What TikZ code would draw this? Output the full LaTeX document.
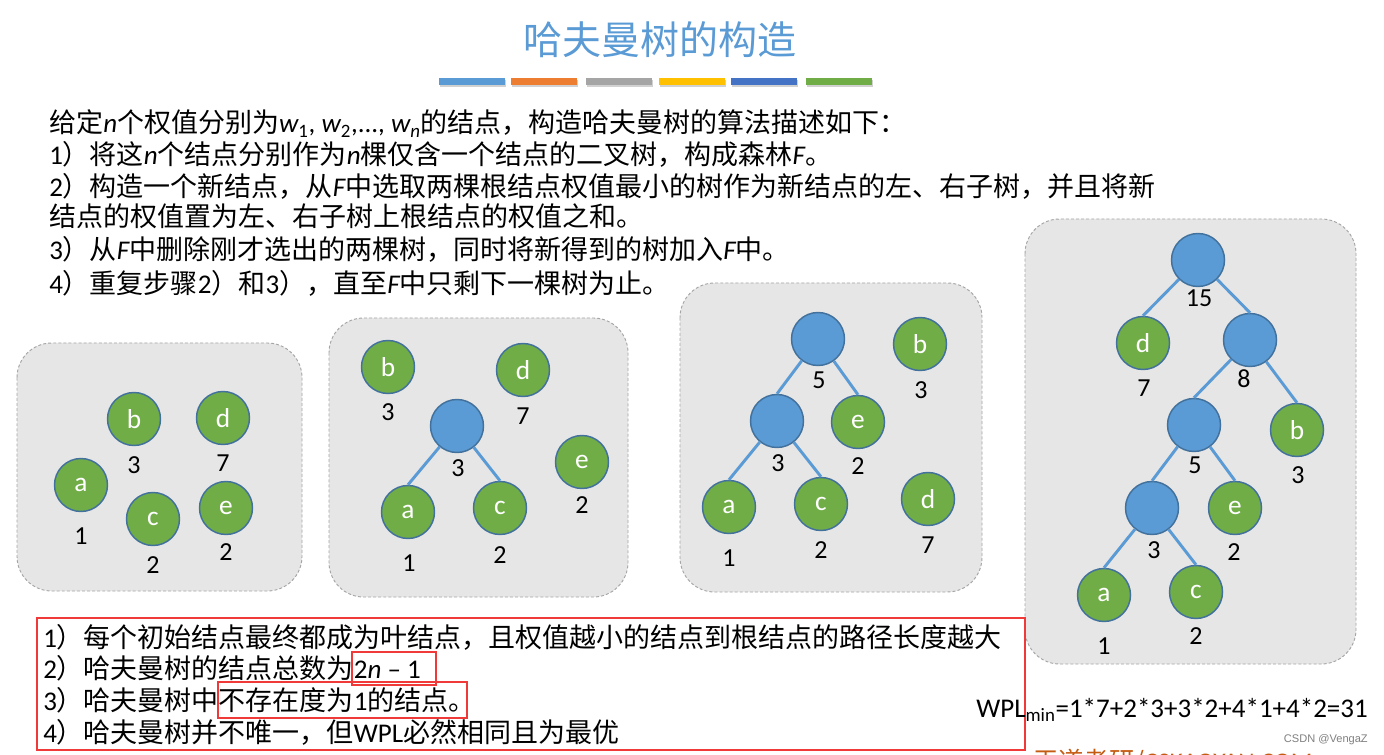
\documentclass[tikz,border=0pt]{standalone}
\usepackage{fontspec}
\setmainfont{Noto Sans CJK SC}
\newfontfamily\latf{Carlito}
\newfontfamily\wmf{Liberation Sans}
\newcommand\Lat[1]{{\latf #1}}
\newcommand\Lit[1]{{\latf\itshape #1}}
\definecolor{cblue}{RGB}{91,155,213}
\definecolor{corange}{RGB}{237,125,49}
\definecolor{cgray}{RGB}{165,165,165}
\definecolor{cyellow}{RGB}{255,192,0}
\definecolor{cdblue}{RGB}{68,114,196}
\definecolor{cgreen}{RGB}{112,173,71}
\definecolor{cring}{RGB}{65,113,156}
\definecolor{cpanel}{RGB}{231,230,230}
\definecolor{cpanedge}{RGB}{165,165,165}
\definecolor{cred}{RGB}{240,58,58}
\definecolor{cwm}{RGB}{197,90,17}
\tikzset{
  panel/.style={fill=cpanel, draw=cpanedge, line width=0.7pt, dash pattern=on 2.2pt off 1.6pt, rounded corners=26pt},
  leaf/.style={circle, minimum size=39.75pt, inner sep=0pt, fill=cgreen, draw=cring, line width=1.1pt, text=white, font=\latf\fontsize{20.5}{24}\selectfont},
  inner/.style={leaf, fill=cblue},
  wt/.style={inner sep=0pt, font=\latf\fontsize{19.5}{23}\selectfont},
  edge/.style={draw=cblue, line width=2.2pt},
  body/.style={inner sep=0pt, anchor=base west, font=\fontsize{20.25}{24}\selectfont},
  redframe/.style={draw=cred, line width=2.2pt},
}
\begin{document}
\begin{tikzpicture}[x=0.75pt, y=-0.75pt]
\useasboundingbox (0,0) rectangle (1384,755);
\clip (0,0) rectangle (1384,755);
\fill[white] (0,0) rectangle (1384,755);
% title
\node[inner sep=0pt, text=cblue, font=\fontsize{29.25}{34}\selectfont] (title) at (660,40) {哈夫曼树的构造};
% colour bars
\foreach \x/\c in {439/cblue, 511/corange, 586/cgray, 659/cyellow, 731/cdblue, 806/cgreen}{
  \fill[black, opacity=0.18] (\x+1,80) rectangle (\x+67,87);
  \fill[\c] (\x,78) rectangle (\x+66,85);
}
% description
\node[body] (l1) at (49,133) {给定\Lit{n}个权值分别为\Lit{w}\Lat{\textsubscript{1}, }\Lit{w}\Lat{\textsubscript{2},..., }\Lit{w}\Lat{\textsubscript{\itshape n}}的结点，构造哈夫曼树的算法描述如下：};
\node[body] (l2) at (49,165) {\Lat{1}）将这\Lit{n}个结点分别作为\Lit{n}棵仅含一个结点的二叉树，构成森林\Lit{F}。};
\node[body] (l3) at (49,197) {\Lat{2}）构造一个新结点，从\Lit{F}中选取两棵根结点权值最小的树作为新结点的左、右子树，并且将新};
\node[body] (l4) at (49,227) {结点的权值置为左、右子树上根结点的权值之和。};
\node[body] (l5) at (49,260) {\Lat{3}）从\Lit{F}中删除刚才选出的两棵树，同时将新得到的树加入\Lit{F}中。};
\node[body] (l6) at (49,294) {\Lat{4}）重复步骤\Lat{2}）和\Lat{3}），直至\Lit{F}中只剩下一棵树为止。};
% panels
\draw[panel] (17,343) rectangle (302,591);
\draw[panel] (329,318) rectangle (628,597);
\draw[panel] (680,283) rectangle (982,592);
\draw[panel] (1025,219) rectangle (1356,664);
% panel 1
\node[leaf] (p1a) at (81,485) {a};  \node[wt] (p1wa) at (81,536) {1};
\node[leaf] (p1b) at (134,419) {b}; \node[wt] (p1wb) at (134,465) {3};
\node[leaf] (p1d) at (223,418) {d}; \node[wt] (p1wd) at (223,463) {7};
\node[leaf] (p1c) at (153,519) {c}; \node[wt] (p1wc) at (153,565) {2};
\node[leaf] (p1e) at (226,508) {e}; \node[wt] (p1we) at (226,552) {2};
% panel 2
\node[leaf] (p2b) at (388,367) {b}; \node[wt] (p2wb) at (388,412) {3};
\node[leaf] (p2d) at (523,370) {d}; \node[wt] (p2wd) at (523,416) {7};
\node[inner] (p2n3) at (457,426) {}; \node[wt] (p2w3) at (458,468) {3};
\node[leaf] (p2e) at (582,462) {e}; \node[wt] (p2we) at (582,505) {2};
\node[leaf] (p2a) at (408,512) {a}; \node[wt] (p2wa) at (409,563) {1};
\node[leaf] (p2c) at (500,508) {c}; \node[wt] (p2wc) at (500,555) {2};
\draw[edge] (p2n3) -- (p2a.north);
\draw[edge] (p2n3) -- (p2c.north);
% panel 3
\node[inner] (p3n5) at (818,339) {}; \node[wt] (p3w5) at (819,380) {5};
\node[leaf] (p3b) at (920,344) {b}; \node[wt] (p3wb) at (921,390) {3};
\node[inner] (p3n3) at (777,421) {}; \node[wt] (p3w3) at (778,463) {3};
\node[leaf] (p3e) at (858,422) {e}; \node[wt] (p3we) at (858,466) {2};
\node[leaf] (p3a) at (729,507) {a}; \node[wt] (p3wa) at (729,558) {1};
\node[leaf] (p3c) at (821,504) {c}; \node[wt] (p3wc) at (821,550) {2};
\node[leaf] (p3d) at (928,499) {d}; \node[wt] (p3wd) at (928,545) {7};
\draw[edge] (p3n5) -- (p3n3.north);
\draw[edge] (p3n5) -- (p3e.north);
\draw[edge] (p3n3) -- (p3a.north);
\draw[edge] (p3n3) -- (p3c.north);
% panel 4
\node[inner] (p4r) at (1198,260) {}; \node[wt] (p4wr) at (1199,298) {15};
\node[leaf] (p4d) at (1143,343) {d}; \node[wt] (p4wd) at (1144,388) {7};
\node[inner] (p4n8) at (1250,340) {}; \node[wt] (p4w8) at (1244,379) {8};
\node[inner] (p4n5) at (1194,425) {}; \node[wt] (p4w5) at (1195,465) {5};
\node[leaf] (p4b) at (1297,430) {b}; \node[wt] (p4wb) at (1298,475) {3};
\node[inner] (p4n3) at (1152,508) {}; \node[wt] (p4w3) at (1154,550) {3};
\node[leaf] (p4e) at (1235,508) {e}; \node[wt] (p4we) at (1234,552) {2};
\node[leaf] (p4a) at (1104,595) {a}; \node[wt] (p4wa) at (1104,646) {1};
\node[leaf] (p4c) at (1196,592) {c}; \node[wt] (p4wc) at (1196,636) {2};
\draw[edge] (p4r) -- (p4d.north);
\draw[edge] (p4r) -- (p4n8.north);
\draw[edge] (p4n8) -- (p4n5.north);
\draw[edge] (p4n8) -- (p4b.north);
\draw[edge] (p4n5) -- (p4n3.north);
\draw[edge] (p4n5) -- (p4e.north);
\draw[edge] (p4n3) -- (p4a.north);
\draw[edge] (p4n3) -- (p4c.north);
% conclusions
\node[body] (b1) at (43,647) {\Lat{1}）每个初始结点最终都成为叶结点，且权值越小的结点到根结点的路径长度越大};
\node[body] (b2) at (43,678) {\Lat{2}）哈夫曼树的结点总数为\Lat{2}\Lit{n}\Lat{ – 1}};
\node[body] (b3) at (43,710) {\Lat{3}）哈夫曼树中不存在度为\Lat{1}的结点。};
\node[body] (b4) at (43,742) {\Lat{4}）哈夫曼树并不唯一，但\Lat{WPL}必然相同且为最优};
\draw[redframe] (37,618) rectangle (1025,750);
\draw[redframe] (352,652) rectangle (436,685);
\draw[redframe] (218,682) rectangle (467,718);
% WPL
\node[inner sep=0pt, anchor=base east, font=\latf\fontsize{20.25}{24}\selectfont] (wpl) at (1368,717) {WPL\textsubscript{min}=1*7+2*3+3*2+4*1+4*2=31};
% watermarks
\node[inner sep=0pt, anchor=east, text=gray, font=\wmf\fontsize{8.3}{10}\selectfont] (csdn) at (1368,740) {CSDN @VengaZ};
\node[inner sep=0pt, anchor=north west, text=cwm, font=\fontsize{19}{23}\selectfont] (wd) at (1033,749) {王道考研/\Lat{CSKAOYAN.COM}};
\end{tikzpicture}
\end{document}
